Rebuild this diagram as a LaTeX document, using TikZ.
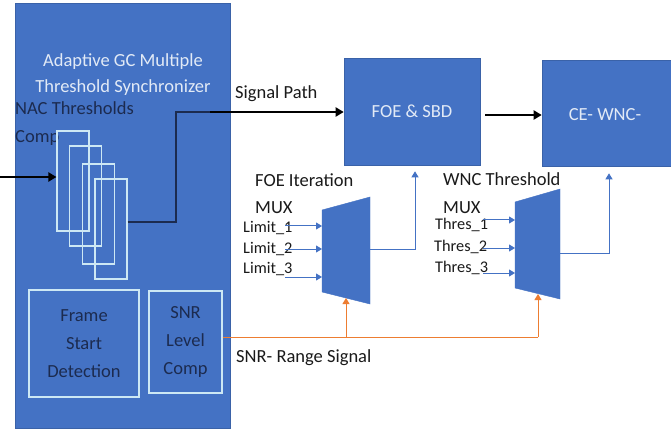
\documentclass[tikz,border=0pt]{standalone}
\usepackage{fontspec}
\setmainfont{Carlito}
\usetikzlibrary{arrows.meta,calc}
\definecolor{ofblue}{HTML}{4472C4}
\definecolor{ofedge}{HTML}{3A62A8}
\definecolor{lightline}{HTML}{CDE8F4}
\definecolor{navy}{HTML}{1C2B4F}
\definecolor{ltext}{HTML}{E2EAF6}
\definecolor{orng}{HTML}{ED7D31}
\definecolor{txt}{HTML}{1A1A1A}
\begin{document}
\begin{tikzpicture}[x=1pt,y=-1pt,
  bluebox/.style={fill=ofblue,draw=ofedge,line width=0.6pt,inner sep=0pt},
  innerbox/.style={draw=lightline,line width=1.2pt,inner sep=0pt},
  stackbox/.style={draw=lightline,line width=1.1pt,inner sep=0pt,minimum width=32pt,minimum height=100pt},
  lbl/.style={font=\fontsize{18.5}{20}\selectfont,text=txt,inner sep=0pt},
  smlbl/.style={font=\fontsize{16.3}{18}\selectfont,text=txt,inner sep=0pt},
  navylbl/.style={font=\fontsize{18.5}{28}\selectfont,text=navy,inner sep=0pt,align=center},
  whitelbl/.style={font=\fontsize{18.5}{26}\selectfont,text=ltext,inner sep=0pt,align=center},
  thickarrow/.style={line width=2.6pt,-{Triangle[length=8pt,width=9pt]},draw=black},
  bluearrow/.style={draw=ofblue,line width=1pt,-{Triangle[length=6pt,width=7pt]}},
  orngarrow/.style={draw=orng,line width=1pt,-{Triangle[length=6pt,width=7pt]}},
  muxshape/.style={fill=ofblue,draw=ofblue}
]
\useasboundingbox (0,0) rectangle (671,430);
\fill[white] (0,0) rectangle (671,430);

% big block
\node[bluebox,minimum width=215pt,minimum height=425pt] (big) at (122.5,215.5) {};
\node[whitelbl] (title) at (123,75) {Adaptive GC Multiple\\Threshold Synchronizer};
\node[navylbl,anchor=north west,align=left] (nac) at (15,101) {NAC Thresholds\\Comp};

% stacked rectangles
\node[stackbox] (r1) at (73,181) {};
\node[stackbox] (r2) at (85.5,196) {};
\node[stackbox] (r3) at (98.5,214) {};
\node[stackbox] (r4) at (111,229) {};

% inner boxes
\node[innerbox,minimum width=110pt,minimum height=107pt] (fsd) at (84,343.5) {};
\node[navylbl] at (fsd.center) {Frame\\Start\\Detection};
\node[innerbox,minimum width=73pt,minimum height=102pt] (snr) at (185.5,342) {};
\node[navylbl] at (snr.center) {SNR\\Level\\Comp};

% right blocks
\node[bluebox,minimum width=136pt,minimum height=107pt] (foe) at (412,111.5) {};
\node[font=\fontsize{18.5}{20}\selectfont,text=ltext] at (foe.center) {FOE \& SBD};
\node[bluebox,minimum width=132pt,minimum height=106pt] (ce) at (608,113) {};
\node[font=\fontsize{18.5}{20}\selectfont,text=ltext] at (605,115) {CE- WNC-};

% input arrow
\coordinate (in) at (0,177);
\draw[thickarrow] (in) -- (r1.west |- in);

% signal path
\coordinate (turn) at (210,112);
\draw[navy,line width=1.3pt] ([yshift=7pt]r4.east) -| (176,112) -- (turn);
\draw[thickarrow] (turn) -- (foe.west |- turn);
\node[lbl,anchor=west] (sp) at (235,94) {Signal Path};
\draw[thickarrow,shorten <=5pt] (foe.east |- 0,115) -- (ce.west |- 0,115);

% FOE MUX
\draw[muxshape] (322,210) -- (370,197) -- (370,304) -- (322,292) -- cycle;
\coordinate (m1in1) at (322,226);
\coordinate (m1in2) at (322,249);
\coordinate (m1in3) at (322,277);
\coordinate (m1out) at (370,249);
\coordinate (m1bot) at (346,298);
\node[lbl,anchor=west] (foel) at (255,180) {FOE Iteration};
\node[lbl,anchor=west] (mux1) at (255,208) {MUX};
\node[smlbl,anchor=west] (l1) at (243,228) {Limit\_1};
\node[smlbl,anchor=west] (l2) at (243,249) {Limit\_2};
\node[smlbl,anchor=west] (l3) at (243,269) {Limit\_3};
\draw[bluearrow] (285,226) -- (m1in1);
\draw[bluearrow] (285,249) -- (m1in2);
\draw[bluearrow] (285,277) -- (m1in3);
\draw[bluearrow,shorten >=6pt] (m1out) -| ($(foe.south)+(3,0)$);

% WNC MUX
\draw[muxshape] (515,202) -- (560,189) -- (560,299) -- (515,288) -- cycle;
\coordinate (m2in1) at (515,220);
\coordinate (m2in2) at (515,248);
\coordinate (m2in3) at (515,273);
\coordinate (m2out) at (560,253);
\coordinate (m2bot) at (538,294);
\node[lbl,anchor=west] (wncl) at (443,179) {WNC Threshold};
\node[lbl,anchor=west] (mux2) at (443,208) {MUX};
\node[smlbl,anchor=west] (t1) at (435,225) {Thres\_1};
\node[smlbl,anchor=west] (t2) at (434,247) {Thres\_2};
\node[smlbl,anchor=west] (t3) at (435,268) {Thres\_3};
\draw[bluearrow] (483,220) -- (m2in1);
\draw[bluearrow] (483,248) -- (m2in2);
\draw[bluearrow] (483,273) -- (m2in3);
\draw[bluearrow,shorten >=7pt] (m2out) -| ($(ce.south)+(1,0)$);

% SNR range signal
\coordinate (split) at (346,337);
\draw[orng,line width=1pt] ([yshift=5pt]snr.east) -- (538,337);
\draw[orngarrow] (split) -- (m1bot);
\draw[orngarrow] (538,337) -- (m2bot);
\node[lbl,anchor=west] (snrl) at (236,358) {SNR- Range Signal};
\end{tikzpicture}
\end{document}
